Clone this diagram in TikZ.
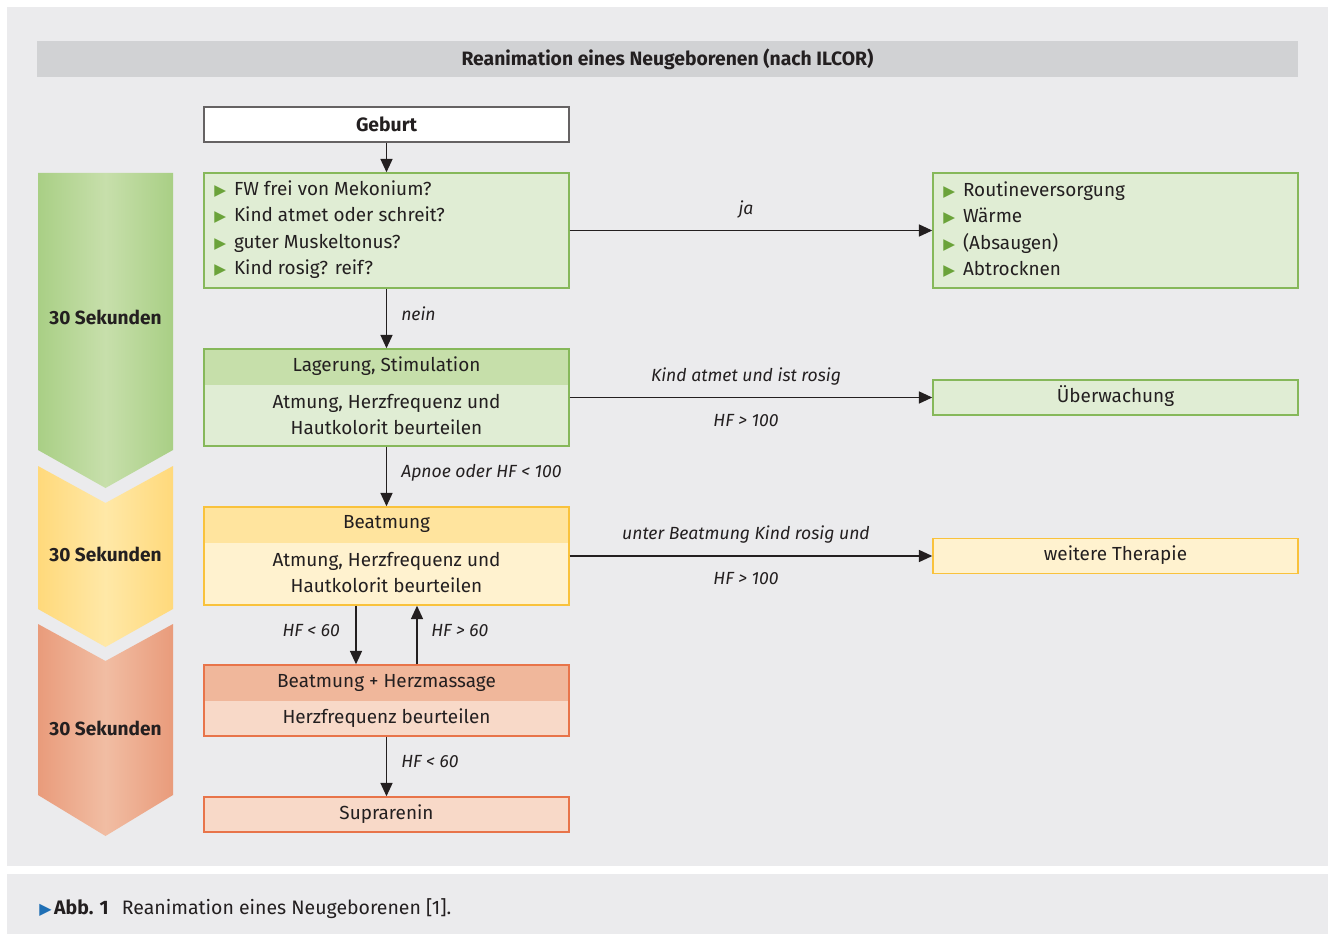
\documentclass[tikz,border=0pt]{standalone}
\usepackage{fontspec}
\setmainfont{Fira Sans}
\newfontfamily\symfont{DejaVu Sans}
\usetikzlibrary{arrows.meta,calc}
\definecolor{panel}{HTML}{EBEBED}
\definecolor{titlebar}{HTML}{D1D2D4}
\definecolor{txt}{HTML}{231F20}
\definecolor{gfill}{HTML}{E0EDD4}
\definecolor{ghdr}{HTML}{C6DFAA}
\definecolor{gborder}{HTML}{86B85A}
\definecolor{gbullet}{HTML}{6BA33A}
\definecolor{yfill}{HTML}{FFF2CF}
\definecolor{yhdr}{HTML}{FFE49E}
\definecolor{yborder}{HTML}{F9C23C}
\definecolor{ofill}{HTML}{F8D9C8}
\definecolor{ohdr}{HTML}{F0B79B}
\definecolor{oborder}{HTML}{E8744A}
\definecolor{capblue}{HTML}{1F6FB5}
\definecolor{chgE}{HTML}{A9CF85}
\definecolor{chgM}{HTML}{C7DFAB}
\definecolor{chyE}{HTML}{FFD97B}
\definecolor{chyM}{HTML}{FFE8A7}
\definecolor{choE}{HTML}{E99B7B}
\definecolor{choM}{HTML}{F1BDA3}
\newcommand{\bul}{{\color{gbullet}\symfont\fontsize{11.5}{10}\selectfont ▶}\hspace{6pt}}
\begin{document}
\begin{tikzpicture}[x=0.75pt,y=-0.75pt,
  every node/.style={text=txt, font=\fontsize{14.2}{19.9}\selectfont},
  box/.style={draw, line width=1.1pt, minimum width=365*0.75pt, inner sep=0pt},
  gbox/.style={box, draw=gborder, fill=gfill},
  ybox/.style={box, draw=yborder, fill=yfill},
  obox/.style={box, draw=oborder, fill=ofill},
  hdr/.style={path picture={\fill[#1] (path picture bounding box.north west) rectangle ([yshift=-36*0.75pt]path picture bounding box.north east);}},
  lbl/.style={font=\fontsize{13.2}{16}\selectfont\itshape, inner sep=0pt},
  arr/.style={draw=txt, line width=1.1pt, -{Triangle[length=10pt,width=9pt]}},
  sek/.style={font=\fontsize{14.3}{16}\selectfont\bfseries}
]
\useasboundingbox (0,0) rectangle (1331,934);
\fill[white] (0,0) rectangle (1331,934);
\fill[panel] (7,7) rectangle (1328,866);
\fill[panel] (7,874) rectangle (1328,934);
% title
\fill[titlebar] (37,41) rectangle (1298,77);
\node[font=\fontsize{14.5}{16}\selectfont\bfseries] (title) at (667.5,59) {Reanimation eines Neugeborenen (nach ILCOR)};
% chevrons
\path[left color=chgE, right color=chgE, middle color=chgM]
  (38,173) -- (173,173) -- (173,450) -- (105.5,488) -- (38,450) -- cycle;
\path[left color=chyE, right color=chyE, middle color=chyM]
  (38,466) -- (105.5,503) -- (173,466) -- (173,609) -- (105.5,647) -- (38,609) -- cycle;
\path[left color=choE, right color=choE, middle color=choM]
  (38,624) -- (105.5,661) -- (173,624) -- (173,795) -- (105.5,836) -- (38,795) -- cycle;
\node[sek] (s1) at (105.5,317) {30 Sekunden};
\node[sek] (s2) at (105.5,554) {30 Sekunden};
\node[sek] (s3) at (105.5,728) {30 Sekunden};
% boxes
\node[box, draw=txt!70, fill=white, minimum height=35*0.75pt, font=\fontsize{14.5}{16}\selectfont\bfseries] (geb) at (386.5,124.5) {Geburt};
\node[gbox, minimum height=115*0.75pt] (q) at (386.5,230.5) {};
\node[anchor=west, align=left, inner sep=0pt] (qt) at (214,229.5) {\bul FW frei von Mekonium?\\\bul Kind atmet oder schreit?\\\bul guter Muskeltonus?\\\bul Kind rosig? reif?};
\node[gbox, minimum height=115*0.75pt] (rout) at (1115.5,230.5) {};
\node[anchor=west, align=left, inner sep=0pt] (rt) at (943,229.5) {\bul Routineversorgung\\\bul Wärme\\\bul (Absaugen)\\\bul Abtrocknen};
\node[gbox, hdr=ghdr, minimum height=97*0.75pt] (lag) at (386.5,397.5) {};
\node (lagh) at (386.5,366) {Lagerung, Stimulation};
\node[align=center] (lagb) at (386.5,414.5) {Atmung, Herzfrequenz und\\Hautkolorit beurteilen};
\node[gbox, minimum height=35*0.75pt] (ueb) at (1115.5,397.5) {};
\node (uebt) at (1115.5,396) {Überwachung};
\draw[gborder, line width=1.1pt] (lag.north west) rectangle (lag.south east);
\node[ybox, hdr=yhdr, minimum height=98*0.75pt] (beat) at (386.5,556) {};
\node (beath) at (386.5,524) {Beatmung};
\node[align=center] (beatb) at (386.5,572.5) {Atmung, Herzfrequenz und\\Hautkolorit beurteilen};
\draw[yborder, line width=1.1pt] (beat.north west) rectangle (beat.south east);
\node[ybox, minimum height=35*0.75pt] (wt) at (1115.5,556) {};
\node (wtt) at (1115.5,555) {weitere Therapie};
\node[obox, hdr=ohdr, minimum height=71*0.75pt] (bh) at (386.5,700.5) {};
\node (bhh) at (386.5,683) {Beatmung + Herzmassage};
\node (bhb) at (386.5,718) {Herzfrequenz beurteilen};
\draw[oborder, line width=1.1pt] (bh.north west) rectangle (bh.south east);
\node[obox, minimum height=35*0.75pt] (sup) at (386.5,814.5) {};
\node (supt) at (386.5,814) {Suprarenin};
% arrows
\draw[arr] (geb) -- (q);
\draw[arr] (q) -- (lag);
\draw[arr] (lag) -- (beat);
\draw[arr] (bh) -- (sup);
\draw[arr] (q) -- (rout);
\draw[arr] (lag) -- (ueb);
\draw[arr] (beat) -- (wt);
\draw[arr] ([xshift=-30.5*0.75pt]beat.south) -- ([xshift=-30.5*0.75pt]bh.north);
\draw[arr] ([xshift=30.5*0.75pt]bh.north) -- ([xshift=30.5*0.75pt]beat.south);
% labels
\node[lbl] (lja) at (746,210) {ja};
\node[lbl, anchor=west] (lnein) at (401,314) {nein};
\node[lbl] (lk1) at (746,377) {Kind atmet und ist rosig};
\node[lbl] (lk2) at (746,421) {HF\ >\ 100};
\node[lbl, anchor=west] (lap) at (401,473) {Apnoe oder HF\ <\ 100};
\node[lbl] (lu1) at (746,535) {unter Beatmung Kind rosig und};
\node[lbl] (lu2) at (746,579) {HF\ >\ 100};
\node[lbl, anchor=east] (lh1) at (340,631) {HF\ <\ 60};
\node[lbl, anchor=west] (lh2) at (431,631) {HF\ >\ 60};
\node[lbl, anchor=west] (lh3) at (401,762) {HF\ <\ 60};
% caption
\node[anchor=west, inner sep=0pt, font=\fontsize{14.6}{16}\selectfont] (cap) at (39,909) {{\color{capblue}\symfont\fontsize{12}{10}\selectfont ▶}\hspace{2pt}\textbf{Abb. 1}\hspace{10pt}Reanimation eines Neugeborenen [1].};
\end{tikzpicture}
\end{document}
